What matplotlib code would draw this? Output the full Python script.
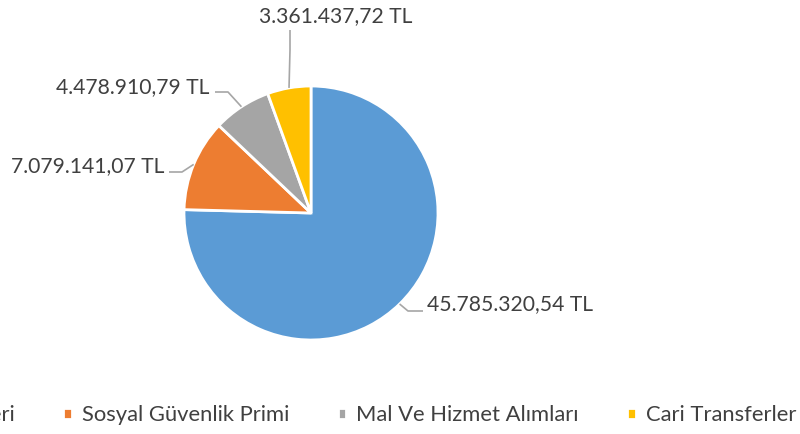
import matplotlib.pyplot as plt
import numpy as np

# data
categories = ['Personel Giderleri', 'Sosyal Güvenlik Primi', 'Mal Ve Hizmet Alımları', 'Cari Transferler']
values = [45785320.54, 7079141.07, 4478910.79, 3361437.72]
colors = ['#5B9BD5', '#ED7D31', '#A5A5A5', '#FFC000']


def tl(v):
    # Turkish number format: 45.785.320,54 TL
    s = f'{v:,.2f}'.replace(',', 'X').replace('.', ',').replace('X', '.')
    return s + ' TL'


plt.rcParams['font.family'] = ['Lato', 'DejaVu Sans']
text_color = '#404040'
line_color = '#A6A6A6'

W, H = 800, 434
cx, cy, R = 311, 213, 127   # pie centre / radius in pixels

fig = plt.figure(figsize=(W / 100, H / 100), dpi=100)
ax = fig.add_axes([0, 0, 1, 1])

wedges, _ = ax.pie(values, colors=colors, startangle=90, counterclock=False,
                   radius=1, center=(0, 0),
                   wedgeprops=dict(edgecolor='white', linewidth=2))

# pie() sets its own limits, so fix them afterwards
ax.set_xlim(-cx / R, (W - cx) / R)
ax.set_ylim((cy - H) / R, cy / R)
ax.set_aspect('equal')
ax.axis('off')


def px(x, y):
    return ((x - cx) / R, (cy - y) / R)


# label layout in pixels: text anchor (x, baseline), alignment, leader elbow, leader end
label_pos = [(427, 310, 'left'), (164, 172, 'right'), (209, 93, 'right'), (259, 22, 'left')]
elbows = [(408, 311), (182, 172), (228, 92), (290, 50)]
ends = [(423, 311), (169, 172), (215, 92), (290, 30)]

for w, v, (tx, ty, ha), el, en in zip(wedges, values, label_pos, elbows, ends):
    ang = np.deg2rad((w.theta1 + w.theta2) / 2)
    start = (np.cos(ang), np.sin(ang))
    e1 = px(*el)
    e2 = px(*en)
    ax.plot([start[0], e1[0], e2[0]], [start[1], e1[1], e2[1]],
            color=line_color, lw=1.2, solid_capstyle='butt')
    ax.text(*px(tx, ty), tl(v), ha=ha, va='baseline', fontsize=15.2, color=text_color)

fig.legend(wedges, categories, loc='center right', ncol=4,
           bbox_to_anchor=(796 / W, 1 - 415 / H), frameon=False,
           borderpad=0, borderaxespad=0,
           fontsize=15.8, labelcolor=text_color,
           handlelength=0.4, handleheight=0.4, handletextpad=0.45,
           columnspacing=2.2)

fig.savefig('out.png', dpi=100)
